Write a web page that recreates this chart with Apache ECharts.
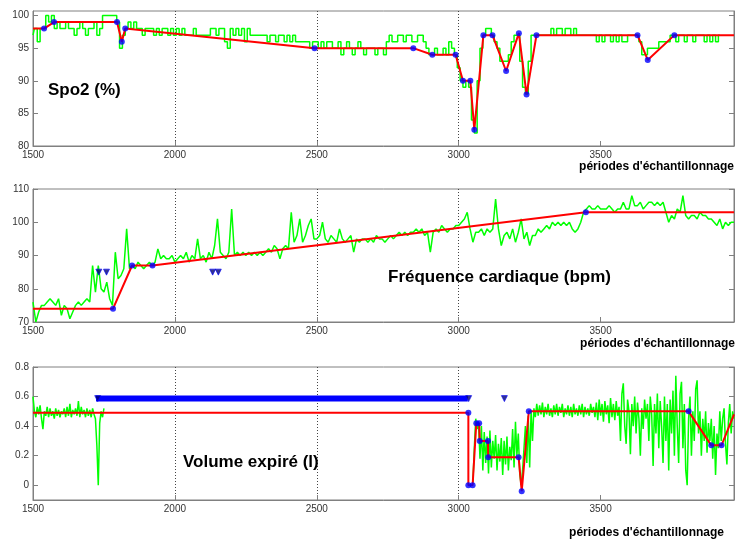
<!DOCTYPE html>
<html>
<head>
<meta charset="utf-8">
<script src="https://cdn.jsdelivr.net/npm/echarts@6/dist/echarts.min.js"></script>
<style>html,body{margin:0;padding:0;background:#fff}#c{width:736px;height:539px}</style>
</head>
<body>
<div id="c"></div>
<script>
// ---------- data ----------
const X_MIN = 1500, X_MAX = 3970, STEP = 10;
const xTickLabels = [1500, 2000, 2500, 3000, 3500];

// Panel 1 : SpO2 (%)
const spo2Green = [97,98,96,98, 98,100,99,100,
 98,99,98,98,99,98,98,97,98,99,98,97,98,98,99,97,98,
 100,100,100,100,100,99,
 95,97,98,99,98,99,
 98,98,97,98,98,98,97,
 98,97,98,98,97,98,97,98,97,98,97,97,97,98,97,97,97,97,97,
 98,98,97,98,98,96,95,98,97,98,97,98,96,98,
 97,97,97,97,97,
 97,96,97,97,96,97,97,96,97,96,97,96,
 96,96,96,
 96,95,96,96,95,96,95,96,96,95,
 95,96,94,95,96,95,94,95,96,95,94,95,95,
 95,94,95,95,94,
 96,97,96,96,97,97,96,97,97,96,96,97,97,96,
 95,94,94,95,94,94,95,94,
 96,95,94,92,90,
 89,90,89,
 84,82,90,95,
 97,98,98,97,
 96,95,93,93,93,94,96,97,97,93,89,88,93,97,
 97,97,97,97,97,97,
 98,97,98,98,97,98,98,97,98,
 97,97,97,97,97,97,97,
 96,97,96,97,97,96,97,96,
 97,96,96,97,97,97,
 97,96,94,94,95,95,95,95,96,96,96,96,97,
 97,96,97,97,96,97,97,96,97,97,97,96,97,96,97,96,
 97];
const spo2LineX = [1500,1539,1574,1796,1813,1825,2492,2840,2907,2989,3015,3041,3055,3087,3119,3167,3212,3239,3274,3630,3666,3760,3970];
const spo2LineY = [98,98,99,99,96,98,95,95,94,94,90,90,82.5,97,97,91.5,97.3,87.9,97,97,93.2,97,97];

// Panel 2 : Fréquence cardiaque (bpm)
const hrGreen = [76,70,73,75,75,76,77,76,
 75,77,72,75,74,71,73,75,76,
 75,76,77,76,87,79,87,80,79,82,77,75,
 91,83,84,86,98,86,
 87,86,88,87,86,87,88,87,
 88,92,89,90,89,89,90,88,89,
 90,89,91,88,90,89,95,89,
 90,88,91,89,
 93,101,91,
 90,89,91,104,90,
 91,90,91,90,91,90,91,90,91,90,91,
 92,91,93,92,89,92,93,92,
 103,94,96,101,94,96,99,101,95,
 95,96,100,95,94,96,
 95,94,98,95,94,95,96,91,95,94,95,95,94,
 95,94,96,95,95,94,
 95,96,95,96,97,96,97,96,97,97,
 98,97,98,96,97,91,97,
 98,97,99,98,97,98,98,99,99,
 100,101,103,98,
 94,97,
 97,98,96,98,97,98,
 107,98,93,96,
 97,95,98,94,97,
 101,95,97,93,96,
 96,98,97,98,99,98,
 100,99,100,99,100,99,100,98,
 97,98,100,103,
 104,105,104,104,105,
 104,104,104,105,104,103,104,
 104,106,104,104,
 108,105,
 105,106,104,105,106,106,105,106,105,106,
 103,100,102,101,
 104,103,108,102,
 101,102,102,101,103,102,102,101,101,
 100,99,101,98,100,99,100,100];
const hrLineX = [1500,1782,1849,1921,3448,3970];
const hrLineY = [74,74,87,87,103,103];
const hrTriX = [1732,1759,2133,2153];
const hrTriY = [85,85,85,85];

// Panel 3 : Volume expiré (l)
const VOL_STEP = 5;
const volGreenA0 = 1500;
const volGreenA = [0.60,0.50,0.46,0.53,0.48,0.54,0.45,0.38,0.50,0.47,0.53,0.46,0.52,0.47,0.50,0.45,0.52,0.47,0.51,0.46,
 0.50,0.48,0.52,0.46,0.53,0.47,0.55,0.46,0.51,0.48,0.52,0.47,0.57,0.46,0.53,0.48,0.51,0.46,0.52,0.47,
 0.51,0.46,0.52,0.48,0.45,0.27,0.00,0.42,0.50,0.46,0.52];
const volGreenB0 = 3050;
const volGreenB = [0.02,0.25,0.45,0.38,0.42,0.18,0.40,0.10,0.36,0.15,0.33,0.08,0.37,0.12,0.30,0.18,0.34,0.10,0.28,0.16,
 0.32,0.07,0.30,0.14,0.33,0.10,0.26,0.17,0.38,0.12,0.43,0.20,0.35,0.08,0.00,0.10,0.25,0.40,0.15,0.47,
 0.12,0.50,0.30,0.52,0.46,0.55,0.47,0.54,0.48,0.56,0.46,0.53,0.48,0.55,0.47,0.52,0.46,0.54,0.48,0.55,
 0.47,0.53,0.49,0.55,0.46,0.52,0.48,0.54,0.47,0.53,0.46,0.55,0.48,0.52,0.47,0.54,0.48,0.55,0.46,0.53,
 0.48,0.52,0.47,0.55,0.49,0.53,0.46,0.56,0.44,0.58,0.47,0.55,0.43,0.57,0.48,0.54,0.42,0.59,0.46,0.55,
 0.44,0.57,0.47,0.53,0.30,0.62,0.69,0.40,0.28,0.58,0.50,0.21,0.55,0.40,0.60,0.35,0.56,0.45,0.20,0.52,
 0.38,0.58,0.45,0.55,0.30,0.60,0.48,0.13,0.55,0.35,0.62,0.25,0.57,0.40,0.15,0.60,0.30,0.55,0.10,0.58,
 0.35,0.64,0.20,0.74,0.40,0.15,0.62,0.70,0.25,0.55,0.10,0.00,0.45,0.60,0.20,0.50,0.30,0.65,0.71,0.35,
 0.50,0.20,0.45,0.30,0.50,0.22,0.42,0.30,0.45,0.18,0.40,0.07,0.35,0.25,0.50,0.30,0.45,0.52,0.28,0.14,
 0.42,0.55,0.35,0.50,0.45];
const volLineX = [1500,3034,3034,3049,3062,3072,3074,3103,3104,3211,3222,3247,3810,3890,3926,3970];
const volLineY = [0.49,0.49,0,0,0.42,0.42,0.30,0.30,0.19,0.19,-0.04,0.50,0.50,0.27,0.27,0.48];
const volBandX = [1722,3032];
const volBandY = [0.586,0.586];
const volTriX = [1728,3035,3161];
const volTriY = [0.586,0.586,0.586];

// ---------- helpers ----------
const seq = (x0, step, vals) => vals.map((v, i) => [x0 + i * step, v]);
const pairs = (xs, ys) => xs.map((x, i) => [x, ys[i]]);
const knots = (xs, ys) => pairs(xs, ys).slice(1, -1);

const AX = '#808080', TXT = '#333', FONT = 'Liberation Sans';

function xAxisFor(gi) {
  return {
    gridIndex: gi, type: 'value', min: X_MIN, max: X_MAX, interval: 500,
    axisLine: { show: true, onZero: false, lineStyle: { color: AX } },
    axisTick: { show: true, inside: true, length: 5, lineStyle: { color: AX }, customValues: xTickLabels },
    axisLabel: { color: TXT, fontSize: 10, fontFamily: FONT, margin: 4, customValues: xTickLabels, formatter: v => String(v) },
    splitLine: { show: true, showMinLine: false, showMaxLine: false, lineStyle: { color: '#444', type: [1, 2], width: 1 } }
  };
}
function yAxisFor(gi, min, max, ticks, side) {
  return {
    gridIndex: gi, type: 'value', min: min, max: max, position: side,
    axisLine: { show: true, onZero: false, lineStyle: { color: AX } },
    axisTick: { show: true, inside: true, length: 5, lineStyle: { color: AX }, customValues: ticks },
    axisLabel: { show: side === 'left', color: TXT, fontSize: 10, fontFamily: FONT, margin: 4, customValues: ticks, formatter: v => String(v) },
    splitLine: { show: false }
  };
}

const spo2Ticks = [80, 85, 90, 95, 100];
const hrTicks = [70, 80, 90, 100, 110];
const volTicks = [0, 0.2, 0.4, 0.6, 0.8];

const green = (gi, data, step) => ({ type: 'line', xAxisIndex: gi, yAxisIndex: gi * 2, data, showSymbol: false, silent: true,
  step: step || false, lineStyle: { color: '#00ff00', width: 1.5 }, z: 2 });
const red = (gi, data) => ({ type: 'line', xAxisIndex: gi, yAxisIndex: gi * 2, data, showSymbol: false, silent: true,
  lineStyle: { color: '#ff0000', width: 2 }, z: 3 });
const dots = (gi, data) => ({ type: 'scatter', xAxisIndex: gi, yAxisIndex: gi * 2, data, symbol: 'circle', symbolSize: 6,
  itemStyle: { color: '#0000ff' }, z: 4, silent: true });
const tris = (gi, data) => ({ type: 'scatter', xAxisIndex: gi, yAxisIndex: gi * 2, data, symbol: 'triangle', symbolRotate: 180,
  symbolSize: [6, 6], itemStyle: { color: '#000070', borderColor: '#0000ff', borderWidth: 0.8 }, z: 6, silent: true });

const chart = echarts.init(document.getElementById('c'), null, { renderer: 'canvas' });
chart.setOption({
  backgroundColor: '#ffffff',
  animation: false,
  grid: [
    { left: 33, right: 2, top: 11, height: 135, show: true, borderColor: AX, borderWidth: 1, backgroundColor: 'transparent' },
    { left: 33, right: 2, top: 189, height: 133, show: true, borderColor: AX, borderWidth: 1, backgroundColor: 'transparent' },
    { left: 33, right: 2, top: 367, height: 133, show: true, borderColor: AX, borderWidth: 1, backgroundColor: 'transparent' }
  ],
  xAxis: [xAxisFor(0), xAxisFor(1), xAxisFor(2)],
  yAxis: [
    yAxisFor(0, 80, 100.7, spo2Ticks, 'left'), yAxisFor(0, 80, 100.7, spo2Ticks, 'right'),
    yAxisFor(1, 70, 110, hrTicks, 'left'), yAxisFor(1, 70, 110, hrTicks, 'right'),
    yAxisFor(2, -0.1, 0.8, volTicks, 'left'), yAxisFor(2, -0.1, 0.8, volTicks, 'right')
  ],
  series: [
    green(0, seq(X_MIN, STEP, spo2Green), 'middle'),
    red(0, pairs(spo2LineX, spo2LineY)),
    dots(0, knots(spo2LineX, spo2LineY)),

    green(1, seq(X_MIN, STEP, hrGreen)),
    red(1, pairs(hrLineX, hrLineY)),
    dots(1, knots(hrLineX, hrLineY)),
    tris(1, pairs(hrTriX, hrTriY)),

    green(2, seq(volGreenA0, VOL_STEP, volGreenA)),
    green(2, seq(volGreenB0, VOL_STEP, volGreenB)),
    { type: 'line', xAxisIndex: 2, yAxisIndex: 4, data: pairs(volBandX, volBandY), showSymbol: false, silent: true,
      lineStyle: { color: '#0000ff', width: 6, cap: 'butt' }, z: 5 },
    red(2, pairs(volLineX, volLineY)),
    dots(2, knots(volLineX, volLineY)),
    tris(2, pairs(volTriX, volTriY))
  ],
  graphic: [
    { type: 'text', style: { x: 48, y: 90, text: 'Spo2 (%)', font: 'bold 17px "Liberation Sans"', fill: '#000', textVerticalAlign: 'middle' }, z: 10 },
    { type: 'text', style: { x: 388, y: 277, text: 'Fréquence cardiaque (bpm)', font: 'bold 17px "Liberation Sans"', fill: '#000', textVerticalAlign: 'middle' }, z: 10 },
    { type: 'text', style: { x: 183, y: 462, text: 'Volume expiré (l)', font: 'bold 17px "Liberation Sans"', fill: '#000', textVerticalAlign: 'middle' }, z: 10 },
    { type: 'text', style: { x: 734, y: 167, text: "périodes d'échantillonnage", font: 'bold 12px "Liberation Sans"', fill: '#000', textAlign: 'right', textVerticalAlign: 'middle' } },
    { type: 'text', style: { x: 735, y: 344, text: "périodes d'échantillonnage", font: 'bold 12px "Liberation Sans"', fill: '#000', textAlign: 'right', textVerticalAlign: 'middle' } },
    { type: 'text', style: { x: 724, y: 533, text: "périodes d'échantillonnage", font: 'bold 12px "Liberation Sans"', fill: '#000', textAlign: 'right', textVerticalAlign: 'middle' } }
  ]
});
</script>
</body>
</html>
